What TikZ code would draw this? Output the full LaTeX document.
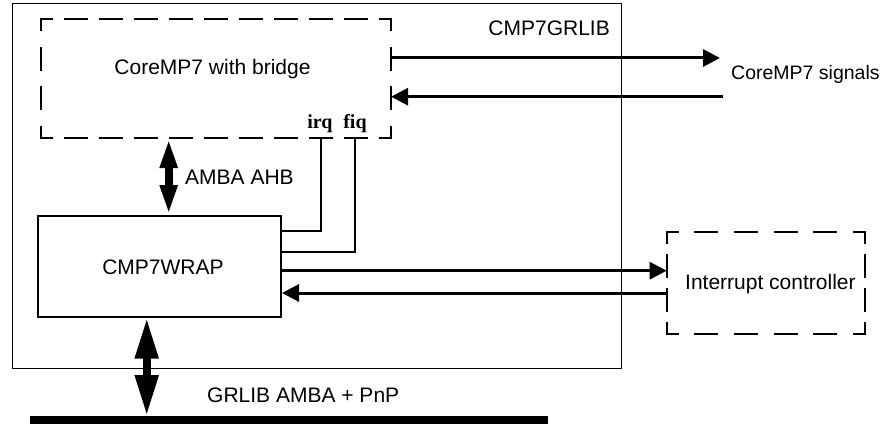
\documentclass[tikz,border=0pt]{standalone}
\usepackage{fontspec}
\setmainfont{Liberation Sans}
\newfontfamily\tmsfont{Liberation Serif}
\usetikzlibrary{arrows.meta}
% one side of a dashed box: from, to, number of periods, side length
\newcommand\dashside[4]{%
  \pgfmathsetmacro\dashgapv{#4/#3-22}%
  \draw[dline, dash pattern=on 22pt off \dashgapv pt, dash phase=11pt] (#1) -- (#2);}
\begin{document}
\begin{tikzpicture}[x=1pt,y=-1pt,
  lbl/.style={inner sep=0pt, font=\fontsize{21}{25}\selectfont},
  sig/.style={inner sep=0pt, font=\tmsfont\bfseries\fontsize{20}{24}\selectfont},
  dbox/.style={draw=none, inner sep=0pt, anchor=north west},
  dline/.style={line width=2pt, line cap=rect},
  sbox/.style={draw, inner sep=0pt, anchor=north west},
  conn/.style={line width=2pt},
  harrow/.style={line width=3pt, -{Triangle[length=17pt,width=17pt]}},
  ahbarrow/.style={line width=8pt, {Triangle[length=30pt,width=16pt]}-{Triangle[length=30pt,width=16pt]}},
  busarrow/.style={line width=8pt, {Triangle[length=41pt,width=22pt]}-{Triangle[length=41pt,width=22pt]}},
  busline/.style={line width=8pt}
]
\useasboundingbox (0,0) rectangle (896,425);

% boxes
\node[sbox, line width=1.3pt, minimum width=609pt, minimum height=365pt] (grlib) at (12,3) {};
\node[dbox, minimum width=350pt, minimum height=118.7pt] (core) at (40.7,19) {};
\node[sbox, line width=2pt, minimum width=242.7pt, minimum height=100.7pt] (wrap) at (37.3,215) {};
\node[dbox, minimum width=198.3pt, minimum height=102pt] (intc) at (666.7,232) {};

% dashed borders, side by side
\dashside{core.north west}{core.north east}{10}{350}
\dashside{core.south west}{core.south east}{10}{350}
\dashside{core.north west}{core.south west}{3}{118.7}
\dashside{core.north east}{core.south east}{3}{118.7}
\dashside{intc.north west}{intc.north east}{5}{198.3}
\dashside{intc.south west}{intc.south east}{5}{198.3}
\dashside{intc.north west}{intc.south west}{3}{102}
\dashside{intc.north east}{intc.south east}{3}{102}

% labels
\node[lbl, anchor=base east] (tgrlib) at (610,36) {CMP7GRLIB};
\node[lbl, anchor=base] (tcore) at (212.5,75) {CoreMP7 with bridge};
\node[lbl, anchor=base] (twrap) at (163,274) {CMP7WRAP};
\node[lbl, anchor=base west] (tahb) at (185,184.3) {AMBA AHB};
\node[lbl, anchor=base west, font=\fontsize{19.5}{23}\selectfont] (tsig) at (731,80) {CoreMP7 signals};
\node[lbl, anchor=base west] (tintc) at (685,289.3) {Interrupt controller};
\node[lbl, anchor=base west] (tbus) at (207,402.7) {GRLIB AMBA + PnP};
\node[sig, anchor=base] (tirq) at (320,128.3) {irq};
\node[sig, anchor=base] (tfiq) at (355,128.3) {fiq};

% coordinates
\coordinate (irqpt) at (321,231);
\coordinate (fiqpt) at (355,252);
\coordinate (a1) at (0,270.7);
\coordinate (a2) at (0,293);
\coordinate (s1) at (0,58);
\coordinate (s1end) at (720,58);
\coordinate (s2start) at (722.7,96.7);
\coordinate (ahbx) at (168.7,0);
\coordinate (busL) at (30,420);
\coordinate (busR) at (548,420);
\coordinate (bustop) at (146.7,416);

% connectors
\draw[conn] (wrap.east |- irqpt) -- (irqpt) -- (irqpt |- core.south);
\draw[conn] (wrap.east |- fiqpt) -- (fiqpt) -- (fiqpt |- core.south);
\draw[harrow] (wrap.east |- a1) -- (intc.west |- a1);
\draw[harrow] (intc.west |- a2) -- (wrap.east |- a2);
\draw[harrow] (core.east |- s1) -- (s1end);
\draw[harrow] (s2start) -- (core.east |- s2start);
\draw[ahbarrow] (core.south -| ahbx) -- (wrap.north -| ahbx);
\draw[busline] (busL) -- (busR);
\draw[busarrow] (wrap.south -| bustop) -- (bustop);
\end{tikzpicture}
\end{document}
